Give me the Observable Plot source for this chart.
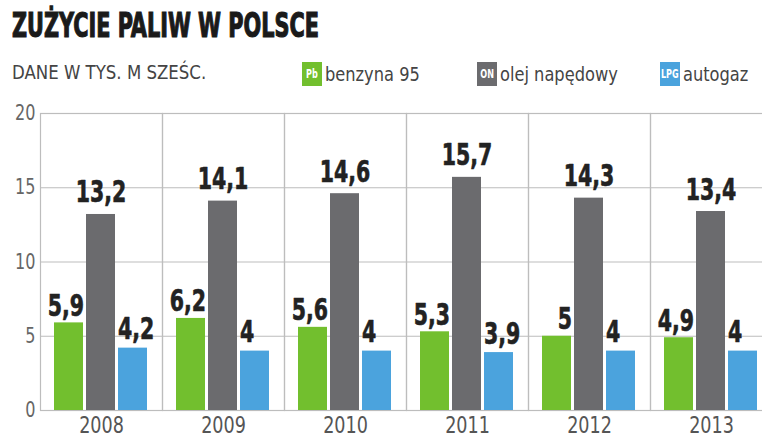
<!DOCTYPE html>
<html>
<head>
<meta charset="utf-8">
<script src="https://cdn.jsdelivr.net/npm/d3@7"></script>
<script src="https://cdn.jsdelivr.net/npm/@observablehq/plot@0.6"></script>
<style>
  html, body { margin: 0; padding: 0; background: #fff; width: 762px; height: 439px; overflow: hidden; }
  #wrap { position: relative; width: 762px; height: 439px; font-family: "DejaVu Sans Condensed", "Liberation Sans Narrow", sans-serif; }
  #title { position: absolute; left: 12px; top: 5px; font-size: 34px; font-weight: bold; color: #1a1a1a; -webkit-text-stroke: 1.2px #1a1a1a; white-space: nowrap; line-height: 40px; transform: scaleX(0.68); transform-origin: left top; }
  #sub { position: absolute; left: 12px; top: 62px; font-size: 19px; color: #444; line-height: 20px; white-space: nowrap; transform: scaleX(0.97); transform-origin: left top; }
  .lg { position: absolute; top: 62px; height: 24px; display: flex; align-items: center; white-space: nowrap; }
  .sw { width: 20px; height: 24px; color: #fff; font-size: 12px; font-weight: bold; display: flex; align-items: center; justify-content: center; margin-right: 3px; overflow: hidden; }
  .sw span { display: inline-block; transform: scaleX(0.75); }
  .lt { font-size: 19px; color: #444; display: inline-block; transform: scaleX(0.95); transform-origin: left center; }
  #chart { position: absolute; left: 0; top: 100px; }
</style>
</head>
<body>
<div id="wrap">
  <div id="title">ZUŻYCIE PALIW W POLSCE</div>
  <div id="sub">DANE W TYS. M SZEŚC.</div>
  <div id="legend"></div>
  <div id="chart"></div>
</div>
<script>
const years = ["2008", "2009", "2010", "2011", "2012", "2013"];
const fuels = ["benzyna 95", "olej napędowy", "autogaz"];
const badges = ["Pb", "ON", "LPG"];
const colors = ["#72bf2e", "#6b6b6e", "#4ba3dd"];
const benzyna = [5.9, 6.2, 5.6, 5.3, 5, 4.9];
const olej = [13.2, 14.1, 14.6, 15.7, 14.3, 13.4];
const autogaz = [4.2, 4, 4, 3.9, 4, 4];
const yTicks = [0, 5, 10, 15, 20];

const series = [benzyna, olej, autogaz];
const data = [];
years.forEach((yr, i) => fuels.forEach((f, j) => data.push({year: yr, fuel: f, value: series[j][i]})));

// legend
const legendX = [302, 477, 660];
const legend = document.getElementById("legend");
fuels.forEach((f, j) => {
  const d = document.createElement("div");
  d.className = "lg";
  d.style.left = legendX[j] + "px";
  d.innerHTML = `<div class="sw" style="background:${colors[j]}"><span>${badges[j]}</span></div><span class="lt">${f}</span>`;
  legend.appendChild(d);
});

const fmt = v => String(v).replace(".", ",");
const font = "DejaVu Sans Condensed, Liberation Sans Narrow, sans-serif";
const labelStyle = {fontSize: 30, fontWeight: "bold", fill: "#222", fontFamily: font, lineAnchor: "bottom", className: "vlabel", stroke: "#222", strokeWidth: 0.6};

const chart = Plot.plot({
  width: 762,
  height: 339,
  marginLeft: 38,
  marginRight: -11,
  marginTop: 13,
  marginBottom: 29,
  style: {fontFamily: font, background: "transparent", overflow: "visible"},
  fx: {domain: years, padding: 0, label: null},
  x: {domain: fuels, paddingInner: 0.09, paddingOuter: 0.4, axis: null},
  y: {domain: [0, 20], label: null},
  color: {domain: fuels, range: colors},
  marks: [
    Plot.gridY(yTicks, {stroke: "#bdbdbd", strokeOpacity: 1, strokeWidth: 1.2}),
    Plot.frame({stroke: "#bdbdbd", strokeWidth: 1.2}),
    Plot.axisY(yTicks, {tickSize: 0, tickPadding: 5, fontSize: 21, fill: "#666", label: null, className: "ylab"}),
    Plot.axisFx({anchor: "bottom", tickSize: 0, tickPadding: 6, fontSize: 23, fill: "#555", label: null, className: "fxlab"}),
    Plot.barY(data, {fx: "year", x: "fuel", y: "value", fill: "fuel"}),
    Plot.text(data.filter(d => d.fuel === fuels[0]), {fx: "year", x: "fuel", y: "value", text: d => fmt(d.value), textAnchor: "end", dx: 15, dy: -7, ...labelStyle}),
    Plot.text(data.filter(d => d.fuel === fuels[1]), {fx: "year", x: "fuel", y: "value", text: d => fmt(d.value), textAnchor: "middle", dy: -12, ...labelStyle}),
    Plot.text(data.filter(d => d.fuel === fuels[2]), {fx: "year", x: "fuel", y: "value", text: d => fmt(d.value), textAnchor: "start", dx: -15, dy: -9, ...labelStyle})
  ]
});

// condense text horizontally around each anchor point
function condense(selector, s) {
  chart.querySelectorAll(selector).forEach(t => {
    const tr = t.getAttribute("transform");
    if (tr) t.setAttribute("transform", tr + ` scale(${s},1)`);
    else {
      const x = +(t.getAttribute("x") || 0), y = +(t.getAttribute("y") || 0);
      t.setAttribute("transform", `translate(${x},${y}) scale(${s},1)`);
      t.removeAttribute("x"); t.removeAttribute("y");
    }
  });
}
condense(".vlabel text", 0.76);
condense(".ylab text", 0.85);
condense(".fxlab text", 0.85);
document.getElementById("chart").appendChild(chart);
</script>
</body>
</html>
